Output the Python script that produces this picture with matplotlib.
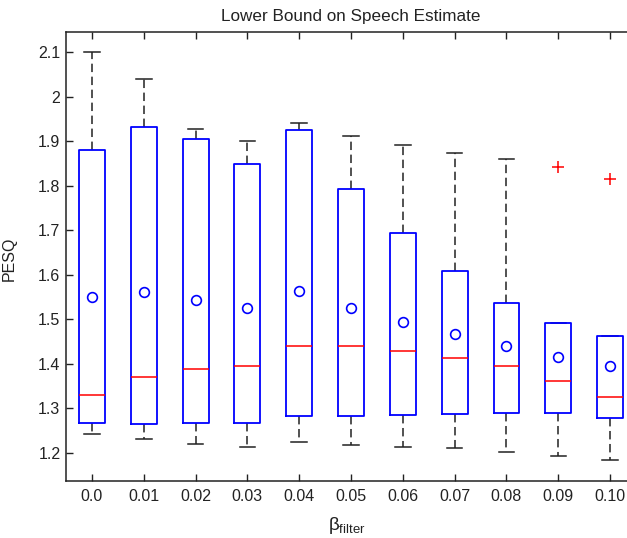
import matplotlib
matplotlib.use("Agg")
import matplotlib.pyplot as plt

plt.rcParams['font.family'] = ['Liberation Sans', 'DejaVu Sans']
plt.rcParams['mathtext.fontset'] = 'custom'
plt.rcParams['mathtext.rm'] = 'Liberation Sans'
plt.rcParams['mathtext.it'] = 'Liberation Sans:italic'

categories = ['0.0', '0.01', '0.02', '0.03', '0.04', '0.05', '0.06', '0.07', '0.08', '0.09', '0.10']
whisker_high = [2.100, 2.040, 1.927, 1.900, 1.940, 1.911, 1.891, 1.873, 1.861, 1.491, 1.463]
q3 = [1.879, 1.932, 1.905, 1.849, 1.926, 1.793, 1.694, 1.608, 1.537, 1.491, 1.463]
median = [1.329, 1.370, 1.388, 1.396, 1.440, 1.440, 1.429, 1.414, 1.396, 1.361, 1.326]
q1 = [1.267, 1.264, 1.267, 1.267, 1.282, 1.282, 1.285, 1.288, 1.290, 1.290, 1.279]
whisker_low = [1.243, 1.231, 1.220, 1.214, 1.225, 1.217, 1.214, 1.211, 1.202, 1.193, 1.184]
means = [1.549, 1.561, 1.543, 1.526, 1.564, 1.526, 1.493, 1.467, 1.440, 1.416, 1.396]
outliers = [[], [], [], [], [], [], [], [], [], [1.841], [1.814]]

stats = []
for i in range(len(categories)):
    stats.append(dict(med=median[i], q1=q1[i], q3=q3[i], whislo=whisker_low[i],
                      whishi=whisker_high[i], mean=means[i], fliers=outliers[i],
                      label=categories[i]))

fig = plt.figure(figsize=(6.27, 5.38), dpi=100)
ax = fig.add_axes([66/627, 57/538, 570/627, 449/538])

positions = list(range(1, len(categories) + 1))
ax.bxp(stats, positions=positions, widths=0.5, capwidths=0.3, showmeans=True,
       boxprops=dict(color='blue', linewidth=1.3, zorder=3),
       whiskerprops=dict(color='#222222', linewidth=1.1, linestyle=(0, (5.5, 3)), zorder=2),
       capprops=dict(color='#222222', linewidth=1.1, zorder=2),
       medianprops=dict(color='red', linewidth=1.1, zorder=4),
       meanprops=dict(marker='o', markerfacecolor='none', markeredgecolor='blue',
                      markersize=7, markeredgewidth=1.2, zorder=4),
       flierprops=dict(marker='+', markeredgecolor='red', markersize=8.5,
                       markeredgewidth=1.1, linestyle='none', zorder=4))

ax.set_xlim(0.5, 11.5)
ax.set_ylim(1.137, 2.145)
ax.set_yticks([1.2, 1.3, 1.4, 1.5, 1.6, 1.7, 1.8, 1.9, 2.0, 2.1])
ax.set_yticklabels(['1.2', '1.3', '1.4', '1.5', '1.6', '1.7', '1.8', '1.9', '2', '2.1'])
ax.set_xticks(positions)
ax.set_xticklabels(categories)
ax.tick_params(direction='in', length=5, width=1.0, top=True, right=True,
               labelsize=11.5, colors='#222222', pad=4)
ax.tick_params(axis='x', pad=6)
for s in ax.spines.values():
    s.set_linewidth(1.1)
    s.set_color('#222222')

ax.set_title('Lower Bound on Speech Estimate', fontsize=12.3, pad=8, color='#222222')
ax.set_ylabel('PESQ', fontsize=11.5, color='#222222')
ax.yaxis.set_label_coords(-0.086, 0.495)
ax.set_xlabel(r'$\mathrm{β}_{\mathrm{filter}}$', fontsize=13.5, color='#222222')
ax.xaxis.set_label_coords(0.492, -0.075)

fig.savefig('out.png', dpi=100)
